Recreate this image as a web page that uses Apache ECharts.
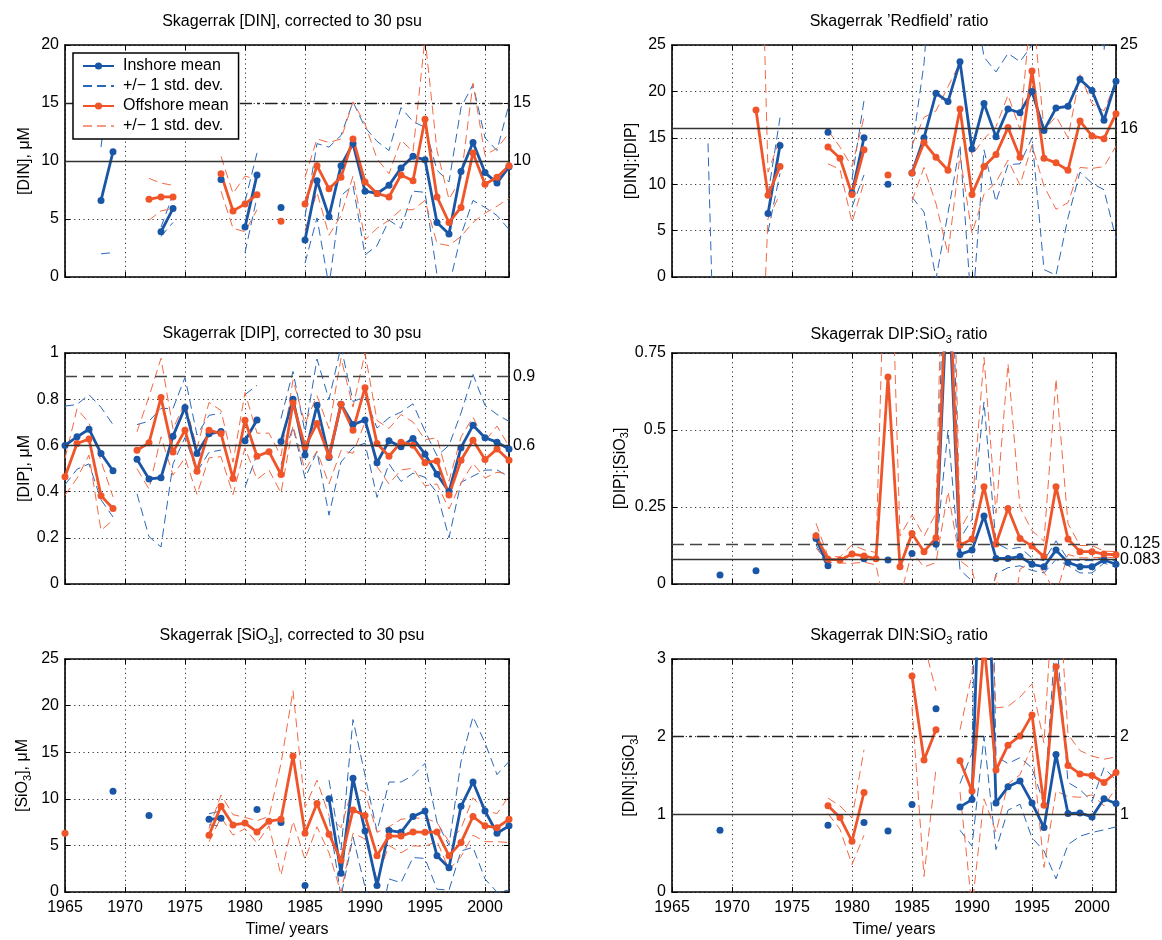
<!DOCTYPE html>
<html><head><meta charset="utf-8">
<script src="https://cdn.jsdelivr.net/npm/echarts@6/dist/echarts.min.js"></script>
<style>html,body{margin:0;padding:0;background:#fff}#c{width:1162px;height:940px}</style>
</head><body><div id="c"></div>
<script>
const _ = null;
const years = [1965,1966,1967,1968,1969, 1970,1971,1972,1973,1974, 1975,1976,1977,1978,1979,
  1980,1981,1982,1983,1984, 1985,1986,1987,1988,1989, 1990,1991,1992,1993,1994,
  1995,1996,1997,1998,1999, 2000,2001,2002];
const xTickLabels = ['1965','1970','1975','1980','1985','1990','1995','2000'];

// ---- [DIN] ----
const dinInMean = [_,_,_,6.6,10.8, _,_,_,3.9,5.9, _,_,_,8.4,_, 4.3,8.8,_,6.0,_, 3.2,8.3,5.2,9.6,11.5, 7.4,7.2,7.9,9.4,10.4, 10.1,4.7,3.7,9.1,11.6, 9.0,8.1,9.5];
const dinInSd   = [_,_,_,4.6,8.7, _,_,_,0.4,1.2, _,_,_,0.5,_, 2.2,1.9,_,0.8,_, 2.0,3.2,6.0,2.6,3.6, 5.5,4.5,3.0,5.2,3.0, 2.8,4.5,4.5,5.5,5.0, 3.0,2.8,5.4];
const dinOffMean= [_,_,_,_,_, _,_,6.7,6.9,6.9, _,_,_,8.9,5.7, 6.3,7.1,_,4.8,_, 6.3,9.6,7.6,8.6,11.9, 8.2,7.2,6.9,8.8,8.3, 13.6,6.9,4.7,6.0,10.7, 8.0,8.6,9.6];
const dinOffSd  = [_,_,_,_,_, _,_,1.8,1.2,1.0, _,_,_,1.5,1.5, 2.4,1.3,_,0.8,_, 2.3,2.3,4.0,3.3,3.2, 5.0,3.0,2.0,3.0,2.5, 7.0,4.0,2.0,2.5,6.0, 2.5,2.5,2.8];

// ---- [DIP] ----
const dipInMean = [0.60,0.637,0.67,0.565,0.49, _,0.54,0.455,0.46,0.64, 0.764,0.565,0.65,0.66,_, 0.62,0.71,_,0.617,0.80, 0.558,0.774,0.548,0.778,0.69, 0.71,0.525,0.62,0.594,0.63, 0.562,0.475,0.40,0.59,0.687, 0.633,0.614,0.584];
const dipInSd   = [0.17,0.14,0.15,0.2,0.2, _,0.15,0.25,0.3,0.12, 0.13,0.08,0.08,0.08,_, 0.2,0.15,_,0.1,0.12, 0.1,0.2,0.25,0.25,0.1, 0.1,0.15,0.1,0.15,0.15, 0.1,0.08,0.2,0.15,0.22, 0.14,0.12,0.12];
const dipOffMean= [0.464,0.608,0.628,0.382,0.327, _,0.579,0.611,0.807,0.571, 0.666,0.488,0.666,0.651,0.457, 0.709,0.553,0.573,0.474,0.784, 0.594,0.695,0.553,0.778,0.666, 0.85,0.608,0.553,0.614,0.601, 0.525,0.533,0.385,0.536,0.622, 0.539,0.584,0.536];
const dipOffSd  = [0.08,0.15,0.07,0.15,0.05, _,0.08,0.2,0.17,0.1, 0.12,0.1,0.12,0.1,0.07, 0.12,0.1,0.08,0.08,0.1, 0.1,0.12,0.12,0.2,0.1, 0.15,0.1,0.12,0.12,0.1, 0.1,0.1,0.06,0.1,0.1, 0.08,0.1,0.06];

// ---- [SiO3] ----
const sioInMean = [_,_,_,_,10.8, _,_,8.2,_,_, _,_,7.8,7.9,_, _,8.85,_,7.45,_, 0.7,_,10.0,2.0,12.2, 6.55,0.7,6.6,6.4,8.1, 8.7,3.9,2.6,9.2,11.8, 8.7,6.3,7.1];
const sioInSd   = [_,_,_,_,6.9, _,_,4.0,_,_, _,_,0.6,0.8,_, _,0.5,_,3.0,_, 0.5,_,2.0,2.5,6.3, 6.0,5.8,5.2,5.4,4.4, 5.1,3.6,2.4,4.8,7.0, 7.3,6.3,6.9];
const sioOffMean= [6.3,_,_,_,_, _,_,_,_,_, _,_,6.1,9.2,7.2, 7.4,6.45,7.6,7.8,14.6, 6.3,9.5,6.2,3.4,8.8, 8.2,3.9,6.0,6.0,6.45, 6.4,6.45,3.9,5.3,8.1, 7.1,6.9,7.8];
const sioOffSd  = [1.5,_,_,_,_, _,_,_,_,_, _,_,0.7,1.2,1.1, 0.6,1.2,0.5,6.0,7.0, 2.8,2.5,2.0,3.5,2.5, 2.5,2.5,1.0,1.8,1.5, 1.5,1.0,1.5,1.5,2.0, 1.7,1.5,2.5];

// ---- Redfield [DIN]:[DIP] ----
const redInMean = [_,_,_,_,_, _,_,_,6.85,14.17, _,_,_,15.6,_, 9.04,15.0,_,10.0,_, 11.2,15.0,19.8,18.9,23.2, 13.8,18.7,15.1,18.1,17.7, 20.0,15.8,18.2,18.4,21.3, 20.1,16.9,21.1];
const redInSd   = [_,_,_,_,_, _,_,_,2,3, _,_,_,2,_, 1.5,4,_,1,_, 2.6,8,20,12,9, 18,5,7,6,5.5, 5,15,18,12,10, 10,7.5,17];
const redOffMean= [_,_,_,_,_, _,_,18.0,8.8,11.9, _,_,_,14.0,12.8, 8.9,13.7,_,11.0,_, 11.2,14.5,12.9,11.5,18.1, 8.9,11.9,13.2,16.1,12.9, 22.2,12.8,12.3,11.5,16.8, 15.2,14.9,17.6];
const redOffSd  = [_,_,_,_,_, _,_,42,2.5,3, _,_,_,1.8,1.2, 3,3.5,_,1,_, 3,2.7,5,9,5, 4.2,3,3,3.5,3, 8,3,5,3.5,5, 3.5,3,3.5];
const redInLowerStray = [[1968, 14.4], [1969, -33]];

// ---- [DIP]:[SiO3] ----
const dsInMean  = [_,_,_,_,0.029, _,_,0.043,_,_, _,_,0.148,0.059,_, _,0.082,_,0.078,_, 0.099,_,0.129,1.0,0.096, 0.11,0.221,0.083,0.083,0.089, 0.064,0.056,0.11,0.07,0.056, 0.056,0.078,0.064];
const dsInSd    = [_,_,_,_,_, _,_,_,_,_, _,_,0.02,0.01,_, _,_,_,_,_, 0.01,_,0.02,0.5,0.05, 0.1,0.37,0.05,0.03,0.03, 0.02,0.02,0.03,0.01,0.02, 0.02,0.01,0.01];
const dsOffMean = [_,_,_,_,_, _,_,_,_,_, _,_,0.157,0.08,0.078, 0.097,0.091,0.082,0.672,0.056, 0.164,0.105,0.15,1.1,0.126, 0.146,0.316,0.13,0.245,0.148, 0.123,0.089,0.316,0.146,0.105, 0.105,0.097,0.095];
const dsOffSd   = [_,_,_,_,_, _,_,_,_,_, _,_,0.04,0.01,0.01, 0.03,0.02,0.02,0.8,0.1, 0.06,0.05,0.08,0.8,0.05, 0.1,0.42,0.1,0.47,0.1, 0.05,0.05,0.35,0.05,0.02, 0.02,0.01,0.01];

// ---- [DIN]:[SiO3] ----
const dnsInMean = [_,_,_,_,0.795, _,_,_,_,_, _,_,_,0.86,_, _,0.894,_,0.786,_, 1.126,_,2.36,_,1.096, 1.19,6.0,1.147,1.354,1.43, 1.147,0.829,1.77,1.01,1.018, 0.967,1.2,1.139];
const dnsInSd   = [_,_,_,_,_, _,_,_,_,_, _,_,_,_,_, _,_,_,_,_, _,_,_,_,0.3, 0.6,4,0.6,0.3,0.3, 0.45,0.3,1.6,0.4,0.3, 0.2,0.4,0.3];
const dnsOffMean= [_,_,_,_,_, _,_,_,_,_, _,_,_,1.109,0.958, 0.653,1.281,_,_,_, 2.78,1.70,2.09,_,1.69, 1.30,3.2,1.57,1.89,2.01, 2.28,1.117,2.90,1.63,1.52, 1.50,1.41,1.54];
const dnsOffSd  = [_,_,_,_,_, _,_,_,_,_, _,_,_,0.1,0.15, 0.3,0.55,_,_,_, 0.4,1.5,0.5,_,0.4, 1.5,2.0,0.8,0.5,0.5, 0.4,0.8,1.6,0.4,0.3, 0.25,0.3,0.2];

// reference lines: [value, style, label]
const dinRefs = [[10,'solid','10'],[15,'dashdot','15']];
const dipRefs = [[0.6,'solid','0.6'],[0.9,'dashed','0.9']];
const redRefs = [[16,'solid','16'],[25,'hidden','25']];
const dsRefs  = [[0.083,'solid','0.083'],[0.125,'dashed','0.125']];
const dnsRefs = [[1,'solid','1'],[2,'dashdot','2']];

// ---------------- styling / layout ----------------
const FONT = '"Liberation Sans", Arial, Helvetica, sans-serif';
const BLUE = '#1a56a6', ORANGE = '#f0552a', BLUE_SD = '#2b68b8', ORANGE_SD = '#f36a45';
const SD_IN = 'sdIn', SD_OFF = 'sdOff';
const rich = {
  a: {fontSize: 16, fontFamily: FONT, color: '#000'},
  s: {fontSize: 11, fontFamily: FONT, color: '#000', padding: [9, 0, 0, 0], verticalAlign: 'bottom'}
};
const refStyle = {
  solid:   {type: 'solid', color: '#333', width: 1.3},
  dashed:  {type: [12, 6], color: '#444', width: 1.3},
  dashdot: {type: [12, 5, 3, 5], color: '#222', width: 1.3},
  hidden:  {type: 'solid', color: 'rgba(0,0,0,0)', width: 1}
};

const panels = [
  {grid:{left:65, top:45, width:444, height:232}, title:'{a|Skagerrak [DIN], corrected to 30 psu}', titleTop:9,
   yName:'{a|[DIN], μM}', yMax:20, yInt:5, inMean:dinInMean, inSd:dinInSd, offMean:dinOffMean, offSd:dinOffSd, refs:dinRefs, bottom:false},
  {grid:{left:672, top:45, width:444, height:232}, title:'{a|Skagerrak ’Redfield’ ratio}', titleTop:9,
   yName:'{a|[DIN]:[DIP]}', yMax:25, yInt:5, inMean:redInMean, inSd:redInSd, offMean:redOffMean, offSd:redOffSd, refs:redRefs, bottom:false, stray:redInLowerStray},
  {grid:{left:65, top:353, width:444, height:231}, title:'{a|Skagerrak [DIP], corrected to 30 psu}', titleTop:321,
   yName:'{a|[DIP], μM}', yMax:1, yInt:0.2, inMean:dipInMean, inSd:dipInSd, offMean:dipOffMean, offSd:dipOffSd, refs:dipRefs, bottom:false},
  {grid:{left:672, top:353, width:444, height:231}, title:'{a|Skagerrak DIP:SiO}{s|3}{a| ratio}', titleTop:320,
   yName:'{a|[DIP]:[SiO}{s|3}{a|]}', yMax:0.75, yInt:0.25, inMean:dsInMean, inSd:dsInSd, offMean:dsOffMean, offSd:dsOffSd, refs:dsRefs, bottom:false},
  {grid:{left:65, top:659, width:444, height:233}, title:'{a|Skagerrak [SiO}{s|3}{a|], corrected to 30 psu}', titleTop:621,
   yName:'{a|[SiO}{s|3}{a|], μM}', yMax:25, yInt:5, inMean:sioInMean, inSd:sioInSd, offMean:sioOffMean, offSd:sioOffSd, refs:[], bottom:true},
  {grid:{left:672, top:659, width:444, height:233}, title:'{a|Skagerrak DIN:SiO}{s|3}{a| ratio}', titleTop:621,
   yName:'{a|[DIN]:[SiO}{s|3}{a|]}', yMax:3, yInt:1, inMean:dnsInMean, inSd:dnsInSd, offMean:dnsOffMean, offSd:dnsOffSd, refs:dnsRefs, bottom:true}
];

const grids = [], xAxes = [], yAxes = [], titles = [], series = [];
const axisLine = {show: true, onZero: false, lineStyle: {color: '#000', width: 1.6}};
const tick = {show: true, inside: true, length: 5, lineStyle: {color: '#000', width: 1}};
const dotted = {show: true, lineStyle: {type: [1.2, 3.4], color: '#333', width: 1}};

panels.forEach((p, k) => {
  grids.push(Object.assign({outerBoundsMode: 'none', containLabel: false}, p.grid));
  titles.push({text: p.title, left: p.grid.left + p.grid.width / 2, top: p.titleTop, textAlign: 'center',
    textStyle: {fontSize: 16, fontWeight: 'normal', fontFamily: FONT, color: '#000', rich: rich}});
  xAxes.push({type: 'value', gridIndex: k, position: 'bottom', min: 1965, max: 2002, interval: 5,
    axisLine: axisLine, axisTick: tick, splitLine: dotted,
    axisLabel: {show: p.bottom, color: '#000', fontSize: 16, fontFamily: FONT, margin: 8, showMaxLabel: false,
      formatter: v => xTickLabels.includes(String(v)) ? String(v) : ''},
    name: p.bottom ? 'Time/ years' : '', nameLocation: 'middle', nameGap: 30,
    nameTextStyle: {color: '#000', fontSize: 16, fontFamily: FONT}});
  xAxes.push({type: 'value', gridIndex: k, position: 'top', min: 1965, max: 2002, interval: 5,
    axisLine: axisLine, axisTick: tick, splitLine: {show: false}, axisLabel: {show: false}});
  yAxes.push({type: 'value', gridIndex: k, position: 'left', min: 0, max: p.yMax, interval: p.yInt,
    axisLine: axisLine, axisTick: tick, splitLine: dotted,
    axisLabel: {color: '#000', fontSize: 16, fontFamily: FONT, margin: 6},
    name: p.yName, nameLocation: 'middle', nameGap: 32,
    nameTextStyle: {color: '#000', fontSize: 16, fontFamily: FONT, rich: rich}});
  yAxes.push({type: 'value', gridIndex: k, position: 'right', min: 0, max: p.yMax, interval: p.yInt,
    axisLine: axisLine, axisTick: tick, splitLine: {show: false}, axisLabel: {show: false}});

  const xi = 2 * k, yi = 2 * k;
  const pts = arr => years.map((y, i) => [y, arr[i]]);
  const band = (m, s, sign) => years.map((y, i) => [y, (m[i] == null || s[i] == null) ? null : m[i] + sign * s[i]]);
  const sd = (name, color, data) => ({type: 'line', name: name, xAxisIndex: xi, yAxisIndex: yi, data: data,
    symbol: 'none', showSymbol: false, connectNulls: false, clip: true, silent: true, animation: false,
    lineStyle: {color: color, width: 1, type: [9, 5]}, itemStyle: {color: color}, z: 2});
  series.push(sd(SD_IN, BLUE_SD, band(p.inMean, p.inSd, 1)));
  series.push(sd(SD_IN, BLUE_SD, band(p.inMean, p.inSd, -1)));
  if (p.stray) series.push(sd(SD_IN, BLUE_SD, p.stray));
  series.push(sd(SD_OFF, ORANGE_SD, band(p.offMean, p.offSd, 1)));
  series.push(sd(SD_OFF, ORANGE_SD, band(p.offMean, p.offSd, -1)));
  const mean = (name, color, data, ml) => {
    const s = {type: 'line', name: name, xAxisIndex: xi, yAxisIndex: yi, data: data,
      symbol: 'circle', symbolSize: 7, showSymbol: true, connectNulls: false, clip: true, silent: true, animation: false,
      lineStyle: {color: color, width: 2.8}, itemStyle: {color: color}, z: 3};
    if (ml) s.markLine = {silent: true, symbol: ['none', 'none'], animation: false,
      data: p.refs.map(r => ({yAxis: r[0], lineStyle: refStyle[r[1]],
        label: {show: true, position: 'end', formatter: r[2], color: '#000', opacity: 1, fontSize: 16, fontFamily: FONT, distance: 4}}))};
    return s;
  };
  series.push(mean('Inshore mean', BLUE, pts(p.inMean), true));
  series.push(mean('Offshore mean', ORANGE, pts(p.offMean), false));
});

const chart = echarts.init(document.getElementById('c'), null, {renderer: 'canvas'});
chart.setOption({
  animation: false,
  backgroundColor: '#fff',
  title: titles,
  grid: grids,
  xAxis: xAxes,
  yAxis: yAxes,
  legend: {
    left: 73, top: 53, orient: 'vertical', backgroundColor: '#fff', borderColor: '#000', borderWidth: 1.5,
    padding: [5, 10, 5, 9], itemGap: 4, itemWidth: 31, itemHeight: 9, selectedMode: false, z: 10,
    textStyle: {fontSize: 16, fontFamily: FONT, color: '#000', padding: [0, 0, 0, 4]},
    data: [
      {name: 'Inshore mean'},
      {name: SD_IN, itemStyle: {opacity: 0}},
      {name: 'Offshore mean'},
      {name: SD_OFF, itemStyle: {opacity: 0}, lineStyle: {color: '#f59a80'}}
    ],
    formatter: n => (n === SD_IN || n === SD_OFF) ? '+/− 1 std. dev.' : n
  },
  series: series
});
</script>
</body></html>
